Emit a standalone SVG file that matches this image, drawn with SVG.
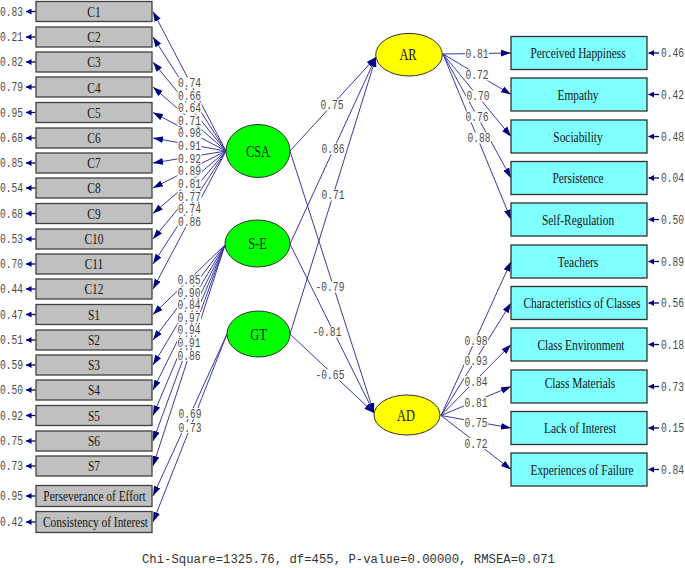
<svg xmlns="http://www.w3.org/2000/svg" width="685" height="568" viewBox="0 0 685 568">
<style>
.ln{stroke:#3a3aa2;stroke-width:1;fill:none}
.ln.a{marker-end:url(#ah)}
.ln.e{marker-end:url(#as);stroke:#000080;stroke-width:1.3}
.lb rect{fill:#fff}
.n{font-family:"Liberation Mono","DejaVu Sans Mono",monospace;font-size:12px;fill:#4a4a4a;text-anchor:middle}
.ne{text-anchor:end}
.ns{text-anchor:start}
.bl rect{fill:#c0c0c0;stroke:#404040;stroke-width:1.3}
.br rect{fill:#80ffff;stroke:#303030;stroke-width:1.3}
.t{font-family:"Liberation Serif","Times New Roman",serif;font-size:15px;fill:#141414;text-anchor:middle}
.lt{font-size:16px}
.g ellipse{fill:#00ff00;stroke:#303030;stroke-width:1}
.y ellipse{fill:#ffff00;stroke:#303030;stroke-width:1}
.fit{font-family:"Liberation Mono","DejaVu Sans Mono",monospace;font-size:12.5px;fill:#333}
</style>
<defs>
<marker id="ah" markerUnits="userSpaceOnUse" markerWidth="11" markerHeight="8" refX="10" refY="4" orient="auto"><path d="M0,0.6 L10,4 L0,7.4 z" fill="#000080"/></marker>
<marker id="as" markerUnits="userSpaceOnUse" markerWidth="6" markerHeight="6" refX="5.5" refY="3" orient="auto"><path d="M0,0 L5.5,3 L0,6 z" fill="#000080"/></marker>
</defs>
<rect width="685" height="568" fill="#fff"/>

<g id="connectors">
<g id="loadings-CSA">
<path class="ln a" d="M226,151 L153,11.5"/>
<path class="ln a" d="M226,151 L153,37"/>
<path class="ln a" d="M226,151 L153,62"/>
<path class="ln a" d="M226,151 L153,87"/>
<path class="ln a" d="M226,151 L153,112.5"/>
<path class="ln a" d="M226,151 L153,138"/>
<path class="ln a" d="M226,151 L153,163"/>
<path class="ln a" d="M226,151 L153,188"/>
<path class="ln a" d="M226,151 L153,213.5"/>
<path class="ln a" d="M226,151 L153,239"/>
<path class="ln a" d="M226,151 L153,264"/>
<path class="ln a" d="M226,151 L153,289"/>
</g>
<g id="loadings-SE">
<path class="ln a" d="M225,245 L153,314.5"/>
<path class="ln a" d="M225,245 L153,340"/>
<path class="ln a" d="M225,245 L153,365"/>
<path class="ln a" d="M225,245 L153,390"/>
<path class="ln a" d="M225,245 L153,415.5"/>
<path class="ln a" d="M225,245 L153,441"/>
<path class="ln a" d="M225,245 L153,466"/>
</g>
<g id="loadings-GT">
<path class="ln a" d="M227,334 L153,496"/>
<path class="ln a" d="M227,334 L153,522"/>
</g>
<g id="structural">
<path class="ln a" d="M290,151 L376,57"/>
<path class="ln a" d="M290,244 L376,57"/>
<path class="ln a" d="M290,334 L376,57"/>
<path class="ln a" d="M290,151 L374,413"/>
<path class="ln a" d="M290,244 L374,413"/>
<path class="ln a" d="M290,334 L374,413"/>
</g>
<g id="loadings-AR">
<path class="ln a" d="M443,54 L511,53"/>
<path class="ln a" d="M443,54 L511,94.5"/>
<path class="ln a" d="M443,54 L511,136.5"/>
<path class="ln a" d="M443,54 L511,178"/>
<path class="ln a" d="M443,54 L511,219.5"/>
</g>
<g id="loadings-AD">
<path class="ln a" d="M441,415.5 L511,261.5"/>
<path class="ln a" d="M441,415.5 L511,303"/>
<path class="ln a" d="M441,415.5 L511,344.5"/>
<path class="ln a" d="M441,415.5 L511,386.5"/>
<path class="ln a" d="M441,415.5 L511,428"/>
<path class="ln a" d="M441,415.5 L511,469.5"/>
</g>
<g id="errors-left">
<path class="ln e" d="M35.5,11.5 H26"/><path class="ln e" d="M35.5,37 H26"/><path class="ln e" d="M35.5,62 H26"/><path class="ln e" d="M35.5,87 H26"/><path class="ln e" d="M35.5,112.5 H26"/><path class="ln e" d="M35.5,138 H26"/><path class="ln e" d="M35.5,163 H26"/><path class="ln e" d="M35.5,188 H26"/><path class="ln e" d="M35.5,213.5 H26"/><path class="ln e" d="M35.5,239 H26"/><path class="ln e" d="M35.5,264 H26"/><path class="ln e" d="M35.5,289 H26"/><path class="ln e" d="M35.5,314.5 H26"/><path class="ln e" d="M35.5,340 H26"/><path class="ln e" d="M35.5,365 H26"/><path class="ln e" d="M35.5,390 H26"/><path class="ln e" d="M35.5,415.5 H26"/><path class="ln e" d="M35.5,441 H26"/><path class="ln e" d="M35.5,466 H26"/><path class="ln e" d="M35.5,496 H26"/><path class="ln e" d="M35.5,522 H26"/>
<text class="n ne" transform="translate(23,15.5) scale(.8,1)">0.83</text>
<text class="n ne" transform="translate(23,41) scale(.8,1)">0.21</text>
<text class="n ne" transform="translate(23,66) scale(.8,1)">0.82</text>
<text class="n ne" transform="translate(23,91) scale(.8,1)">0.79</text>
<text class="n ne" transform="translate(23,116.5) scale(.8,1)">0.95</text>
<text class="n ne" transform="translate(23,142) scale(.8,1)">0.68</text>
<text class="n ne" transform="translate(23,167) scale(.8,1)">0.85</text>
<text class="n ne" transform="translate(23,192) scale(.8,1)">0.54</text>
<text class="n ne" transform="translate(23,217.5) scale(.8,1)">0.68</text>
<text class="n ne" transform="translate(23,243) scale(.8,1)">0.53</text>
<text class="n ne" transform="translate(23,268) scale(.8,1)">0.70</text>
<text class="n ne" transform="translate(23,293) scale(.8,1)">0.44</text>
<text class="n ne" transform="translate(23,318.5) scale(.8,1)">0.47</text>
<text class="n ne" transform="translate(23,344) scale(.8,1)">0.51</text>
<text class="n ne" transform="translate(23,369) scale(.8,1)">0.59</text>
<text class="n ne" transform="translate(23,394) scale(.8,1)">0.50</text>
<text class="n ne" transform="translate(23,419.5) scale(.8,1)">0.92</text>
<text class="n ne" transform="translate(23,445) scale(.8,1)">0.75</text>
<text class="n ne" transform="translate(23,470) scale(.8,1)">0.73</text>
<text class="n ne" transform="translate(23,500) scale(.8,1)">0.95</text>
<text class="n ne" transform="translate(23,526) scale(.8,1)">0.42</text>
</g>
<g id="errors-right">
<path class="ln e" d="M659,53 H648.5"/><path class="ln e" d="M659,94.5 H648.5"/><path class="ln e" d="M659,136.5 H648.5"/><path class="ln e" d="M659,178 H648.5"/><path class="ln e" d="M659,219.5 H648.5"/><path class="ln e" d="M659,261.5 H648.5"/><path class="ln e" d="M659,303 H648.5"/><path class="ln e" d="M659,344.5 H648.5"/><path class="ln e" d="M659,386.5 H648.5"/><path class="ln e" d="M659,428 H648.5"/><path class="ln e" d="M659,469.5 H648.5"/>
<text class="n ns" transform="translate(661,57) scale(.8,1)">0.46</text>
<text class="n ns" transform="translate(661,98.5) scale(.8,1)">0.42</text>
<text class="n ns" transform="translate(661,140.5) scale(.8,1)">0.48</text>
<text class="n ns" transform="translate(661,182) scale(.8,1)">0.04</text>
<text class="n ns" transform="translate(661,223.5) scale(.8,1)">0.50</text>
<text class="n ns" transform="translate(661,265.5) scale(.8,1)">0.89</text>
<text class="n ns" transform="translate(661,307) scale(.8,1)">0.56</text>
<text class="n ns" transform="translate(661,348.5) scale(.8,1)">0.18</text>
<text class="n ns" transform="translate(661,390.5) scale(.8,1)">0.73</text>
<text class="n ns" transform="translate(661,432) scale(.8,1)">0.15</text>
<text class="n ns" transform="translate(661,473.5) scale(.8,1)">0.84</text>
</g>
<g id="labels" class="lb">
<g transform="translate(189.5,82.75)"><rect x="-12" y="-5.5" width="24" height="11"/><text class="n" y="4" transform="scale(.8,1)">0.74</text></g>
<g transform="translate(189.5,95.5)"><rect x="-12" y="-5.5" width="24" height="11"/><text class="n" y="4" transform="scale(.8,1)">0.66</text></g>
<g transform="translate(189.5,108)"><rect x="-12" y="-5.5" width="24" height="11"/><text class="n" y="4" transform="scale(.8,1)">0.64</text></g>
<g transform="translate(189.5,120.5)"><rect x="-12" y="-5.5" width="24" height="11"/><text class="n" y="4" transform="scale(.8,1)">0.71</text></g>
<g transform="translate(189.5,133.25)"><rect x="-12" y="-5.5" width="24" height="11"/><text class="n" y="4" transform="scale(.8,1)">0.98</text></g>
<g transform="translate(189.5,146)"><rect x="-12" y="-5.5" width="24" height="11"/><text class="n" y="4" transform="scale(.8,1)">0.91</text></g>
<g transform="translate(189.5,158.5)"><rect x="-12" y="-5.5" width="24" height="11"/><text class="n" y="4" transform="scale(.8,1)">0.92</text></g>
<g transform="translate(189.5,171)"><rect x="-12" y="-5.5" width="24" height="11"/><text class="n" y="4" transform="scale(.8,1)">0.89</text></g>
<g transform="translate(189.5,183.75)"><rect x="-12" y="-5.5" width="24" height="11"/><text class="n" y="4" transform="scale(.8,1)">0.81</text></g>
<g transform="translate(189.5,196.5)"><rect x="-12" y="-5.5" width="24" height="11"/><text class="n" y="4" transform="scale(.8,1)">0.77</text></g>
<g transform="translate(189.5,209)"><rect x="-12" y="-5.5" width="24" height="11"/><text class="n" y="4" transform="scale(.8,1)">0.74</text></g>
<g transform="translate(189.5,221.5)"><rect x="-12" y="-5.5" width="24" height="11"/><text class="n" y="4" transform="scale(.8,1)">0.86</text></g>
<g transform="translate(189,280)"><rect x="-12" y="-5.5" width="24" height="11"/><text class="n" y="4" transform="scale(.8,1)">0.85</text></g>
<g transform="translate(189,292.5)"><rect x="-12" y="-5.5" width="24" height="11"/><text class="n" y="4" transform="scale(.8,1)">0.90</text></g>
<g transform="translate(189,305)"><rect x="-12" y="-5.5" width="24" height="11"/><text class="n" y="4" transform="scale(.8,1)">0.84</text></g>
<g transform="translate(189,317.5)"><rect x="-12" y="-5.5" width="24" height="11"/><text class="n" y="4" transform="scale(.8,1)">0.97</text></g>
<g transform="translate(189,330)"><rect x="-12" y="-5.5" width="24" height="11"/><text class="n" y="4" transform="scale(.8,1)">0.94</text></g>
<g transform="translate(189,342.5)"><rect x="-12" y="-5.5" width="24" height="11"/><text class="n" y="4" transform="scale(.8,1)">0.91</text></g>
<g transform="translate(189,355.5)"><rect x="-12" y="-5.5" width="24" height="11"/><text class="n" y="4" transform="scale(.8,1)">0.86</text></g>
<g transform="translate(190,413.5)"><rect x="-12" y="-5.5" width="24" height="11"/><text class="n" y="4" transform="scale(.8,1)">0.69</text></g>
<g transform="translate(190,427.5)"><rect x="-12" y="-5.5" width="24" height="11"/><text class="n" y="4" transform="scale(.8,1)">0.73</text></g>
<g transform="translate(332,105)"><rect x="-12" y="-5.5" width="24" height="11"/><text class="n" y="4" transform="scale(.8,1)">0.75</text></g>
<g transform="translate(333,149)"><rect x="-12" y="-5.5" width="24" height="11"/><text class="n" y="4" transform="scale(.8,1)">0.86</text></g>
<g transform="translate(333,195)"><rect x="-12" y="-5.5" width="24" height="11"/><text class="n" y="4" transform="scale(.8,1)">0.71</text></g>
<g transform="translate(330,287)"><rect x="-15" y="-5.5" width="30" height="11"/><text class="n" y="4" transform="scale(.8,1)">-0.79</text></g>
<g transform="translate(327,332)"><rect x="-15" y="-5.5" width="30" height="11"/><text class="n" y="4" transform="scale(.8,1)">-0.81</text></g>
<g transform="translate(330,375)"><rect x="-15" y="-5.5" width="30" height="11"/><text class="n" y="4" transform="scale(.8,1)">-0.65</text></g>
<g transform="translate(477,53.5)"><rect x="-12" y="-5.5" width="24" height="11"/><text class="n" y="4" transform="scale(.8,1)">0.81</text></g>
<g transform="translate(477,75)"><rect x="-12" y="-5.5" width="24" height="11"/><text class="n" y="4" transform="scale(.8,1)">0.72</text></g>
<g transform="translate(478,96)"><rect x="-12" y="-5.5" width="24" height="11"/><text class="n" y="4" transform="scale(.8,1)">0.70</text></g>
<g transform="translate(477,117)"><rect x="-12" y="-5.5" width="24" height="11"/><text class="n" y="4" transform="scale(.8,1)">0.76</text></g>
<g transform="translate(479,138)"><rect x="-12" y="-5.5" width="24" height="11"/><text class="n" y="4" transform="scale(.8,1)">0.88</text></g>
<g transform="translate(476,340.5)"><rect x="-12" y="-5.5" width="24" height="11"/><text class="n" y="4" transform="scale(.8,1)">0.98</text></g>
<g transform="translate(476,360.5)"><rect x="-12" y="-5.5" width="24" height="11"/><text class="n" y="4" transform="scale(.8,1)">0.93</text></g>
<g transform="translate(476,381.5)"><rect x="-12" y="-5.5" width="24" height="11"/><text class="n" y="4" transform="scale(.8,1)">0.84</text></g>
<g transform="translate(476,402.5)"><rect x="-12" y="-5.5" width="24" height="11"/><text class="n" y="4" transform="scale(.8,1)">0.81</text></g>
<g transform="translate(476,423)"><rect x="-12" y="-5.5" width="24" height="11"/><text class="n" y="4" transform="scale(.8,1)">0.75</text></g>
<g transform="translate(476,443.5)"><rect x="-12" y="-5.5" width="24" height="11"/><text class="n" y="4" transform="scale(.8,1)">0.72</text></g>
</g>
</g>

<g id="C1" class="bl"><rect x="36" y="1.5" width="116" height="20"/><text class="t" transform="translate(94,16.5) scale(.76,1)">C1</text></g>
<g id="C2" class="bl"><rect x="36" y="27" width="116" height="20"/><text class="t" transform="translate(94,42) scale(.76,1)">C2</text></g>
<g id="C3" class="bl"><rect x="36" y="52" width="116" height="20"/><text class="t" transform="translate(94,67) scale(.76,1)">C3</text></g>
<g id="C4" class="bl"><rect x="36" y="77" width="116" height="20"/><text class="t" transform="translate(94,93) scale(.76,1)">C4</text></g>
<g id="C5" class="bl"><rect x="36" y="102.5" width="116" height="20"/><text class="t" transform="translate(94,117.5) scale(.76,1)">C5</text></g>
<g id="C6" class="bl"><rect x="36" y="128" width="116" height="20"/><text class="t" transform="translate(94,143) scale(.76,1)">C6</text></g>
<g id="C7" class="bl"><rect x="36" y="153" width="116" height="20"/><text class="t" transform="translate(94,168) scale(.76,1)">C7</text></g>
<g id="C8" class="bl"><rect x="36" y="178" width="116" height="20"/><text class="t" transform="translate(94,193) scale(.76,1)">C8</text></g>
<g id="C9" class="bl"><rect x="36" y="203.5" width="116" height="20"/><text class="t" transform="translate(94,218.5) scale(.76,1)">C9</text></g>
<g id="C10" class="bl"><rect x="36" y="229" width="116" height="20"/><text class="t" transform="translate(94,244) scale(.76,1)">C10</text></g>
<g id="C11" class="bl"><rect x="36" y="254" width="116" height="20"/><text class="t" transform="translate(94,269) scale(.76,1)">C11</text></g>
<g id="C12" class="bl"><rect x="36" y="279" width="116" height="20"/><text class="t" transform="translate(94,294) scale(.76,1)">C12</text></g>
<g id="S1" class="bl"><rect x="36" y="304.5" width="116" height="20"/><text class="t" transform="translate(94,319.5) scale(.76,1)">S1</text></g>
<g id="S2" class="bl"><rect x="36" y="330" width="116" height="20"/><text class="t" transform="translate(94,345) scale(.76,1)">S2</text></g>
<g id="S3" class="bl"><rect x="36" y="355" width="116" height="20"/><text class="t" transform="translate(94,370) scale(.76,1)">S3</text></g>
<g id="S4" class="bl"><rect x="36" y="380" width="116" height="20"/><text class="t" transform="translate(94,395) scale(.76,1)">S4</text></g>
<g id="S5" class="bl"><rect x="36" y="405.5" width="116" height="20"/><text class="t" transform="translate(94,420.5) scale(.76,1)">S5</text></g>
<g id="S6" class="bl"><rect x="36" y="431" width="116" height="20"/><text class="t" transform="translate(94,446) scale(.76,1)">S6</text></g>
<g id="S7" class="bl"><rect x="36" y="456" width="116" height="20"/><text class="t" transform="translate(94,471) scale(.76,1)">S7</text></g>
<g id="PE" class="bl"><rect x="36" y="485.5" width="116" height="21"/><text class="t" transform="translate(94.5,501) scale(.76,1)">Perseverance of Effort</text></g>
<g id="CI" class="bl"><rect x="36" y="511.5" width="116" height="21"/><text class="t" transform="translate(95.5,527) scale(.76,1)">Consistency of Interest</text></g>

<g id="CSA" class="g"><ellipse cx="258" cy="151" rx="32" ry="26.5"/><text class="t lt" transform="translate(258,156.5) scale(.77,1)">CSA</text></g>
<g id="SE" class="g"><ellipse cx="257.5" cy="243.5" rx="32.5" ry="23.5"/><text class="t lt" transform="translate(257.5,249) scale(.77,1)">S-E</text></g>
<g id="GT" class="g"><ellipse cx="258.5" cy="334" rx="31.5" ry="23"/><text class="t lt" transform="translate(258.5,339.5) scale(.77,1)">GT</text></g>
<g id="AR" class="y"><ellipse cx="409" cy="54.7" rx="33.3" ry="21.3"/><text class="t lt" transform="translate(408,60) scale(.77,1)">AR</text></g>
<g id="AD" class="y"><ellipse cx="407" cy="415" rx="33" ry="20"/><text class="t lt" transform="translate(406,420.5) scale(.77,1)">AD</text></g>

<g id="PH" class="br"><rect x="511" y="36.5" width="136" height="33"/><text class="t" transform="translate(578,58.3) scale(.76,1)">Perceived Happiness</text></g>
<g id="EM" class="br"><rect x="511" y="78" width="136" height="33"/><text class="t" transform="translate(578,99.8) scale(.76,1)">Empathy</text></g>
<g id="SO" class="br"><rect x="511" y="120" width="136" height="33"/><text class="t" transform="translate(578,141.8) scale(.76,1)">Sociability</text></g>
<g id="PS" class="br"><rect x="511" y="161.5" width="136" height="33"/><text class="t" transform="translate(578,183.3) scale(.76,1)">Persistence</text></g>
<g id="SR" class="br"><rect x="511" y="203" width="136" height="33"/><text class="t" transform="translate(578,224.8) scale(.76,1)">Self-Regulation</text></g>
<g id="TE" class="br"><rect x="511" y="245" width="136" height="33"/><text class="t" transform="translate(578,266.8) scale(.76,1)">Teachers</text></g>
<g id="CC" class="br"><rect x="511" y="286.5" width="136" height="33"/><text class="t" transform="translate(582,308.3) scale(.76,1)">Characteristics of Classes</text></g>
<g id="CE" class="br"><rect x="511" y="328" width="136" height="33"/><text class="t" transform="translate(581,349.8) scale(.76,1)">Class Environment</text></g>
<g id="CM" class="br"><rect x="511" y="370" width="136" height="33"/><text class="t" transform="translate(580,388) scale(.76,1)">Class Materials</text></g>
<g id="LI" class="br"><rect x="511" y="411.5" width="136" height="33"/><text class="t" transform="translate(580,433.3) scale(.76,1)">Lack of Interest</text></g>
<g id="EF" class="br"><rect x="511" y="453" width="136" height="33"/><text class="t" transform="translate(582,474.8) scale(.76,1)">Experiences of Failure</text></g>

<text class="fit" x="142" y="563" textLength="413" lengthAdjust="spacingAndGlyphs">Chi-Square=1325.76, df=455, P-value=0.00000, RMSEA=0.071</text>
</svg>
